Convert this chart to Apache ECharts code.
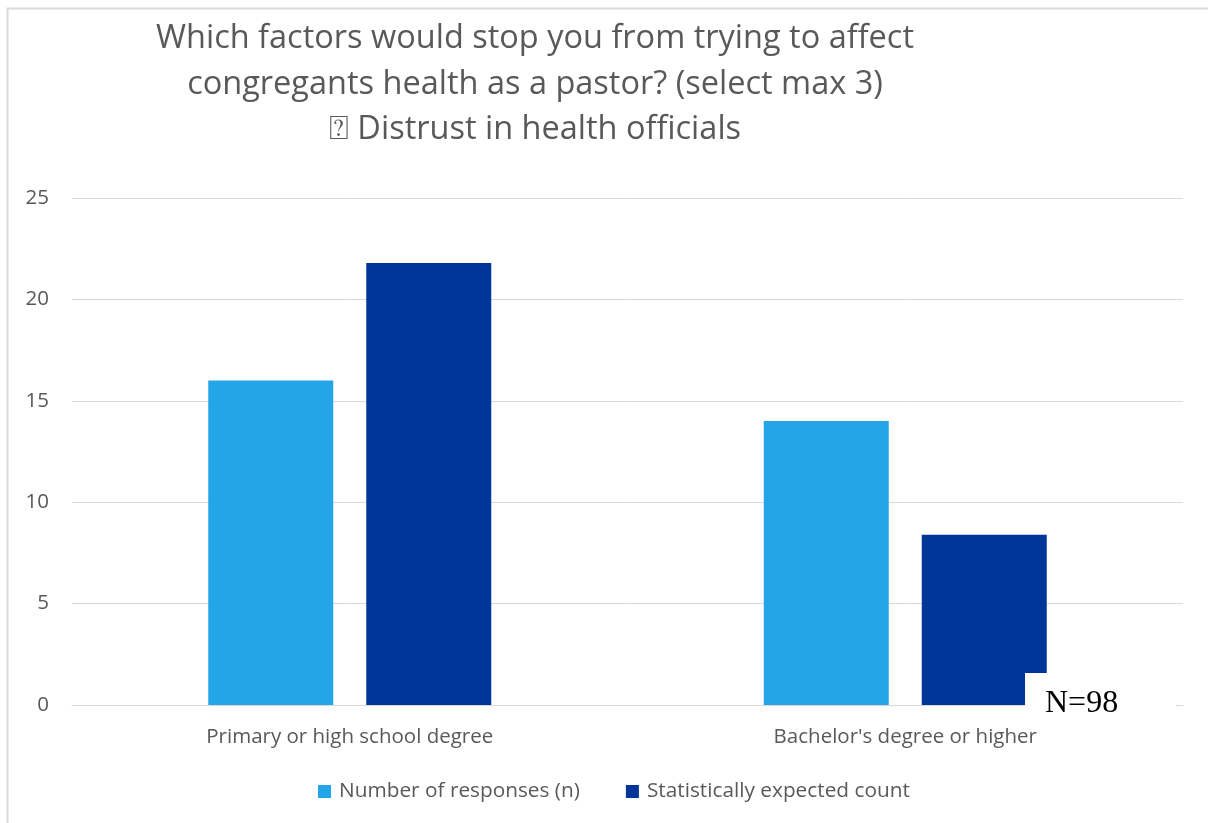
<!DOCTYPE html>
<html>
<head>
<meta charset="utf-8">
<script src="https://cdn.jsdelivr.net/npm/echarts@6/dist/echarts.min.js"></script>
<style>
html,body{margin:0;padding:0;background:#fff;}
#chart{width:1208px;height:823px;}
</style>
</head>
<body>
<div id="chart"></div>
<script>
const categories = ["Primary or high school degree", "Bachelor's degree or higher"];
const seriesNames = ["Number of responses (n)", "Statistically expected count"];
const responses = [16, 14];
const expected = [21.8, 8.4];
const yTicks = [0, 5, 10, 15, 20, 25];
const titleText = "Which factors would stop you from trying to affect\ncongregants health as a pastor? (select max 3)\n\u2370 Distrust in health officials";
const noteText = "N=98";

const FONT = "Open Sans";
const chart = echarts.init(document.getElementById('chart'));
chart.setOption({
  animation: false,
  backgroundColor: '#fff',
  title: {
    text: titleText,
    left: 530, top: 11, textAlign: 'center',
    textStyle: {fontFamily: FONT, fontSize: 32.5, fontWeight: 'normal', color: '#595959', lineHeight: 45.5}
  },
  legend: {
    data: seriesNames,
    left: 313, top: 776, itemWidth: 13, itemHeight: 13, itemGap: 46,
    icon: 'rect',
    textStyle: {fontFamily: FONT, fontSize: 20.8, color: '#595959', padding: [0, 0, 0, 3]}
  },
  grid: {left: 72, right: 25, top: 198, bottom: 118, containLabel: false},
  xAxis: {
    type: 'category', data: categories,
    axisLine: {lineStyle: {color: '#d9d9d9', width: 1}},
    axisTick: {show: false},
    axisLabel: {fontFamily: FONT, fontSize: 20.5, color: '#595959', margin: 22}
  },
  yAxis: {
    type: 'value', min: yTicks[0], max: yTicks[yTicks.length-1], interval: 5,
    axisLine: {show: false}, axisTick: {show: false},
    splitLine: {lineStyle: {color: '#d9d9d9', width: 1}},
    axisLabel: {fontFamily: FONT, fontSize: 20.5, color: '#595959', margin: 23}
  },
  series: [
    {name: seriesNames[0], type: 'bar', data: responses, barWidth: 125, barGap: '26.4%',
     itemStyle: {color: '#24A5E8'}},
    {name: seriesNames[1], type: 'bar', data: expected, barWidth: 125,
     itemStyle: {color: '#003698'}}
  ],
  graphic: [
    {type: 'rect', shape: {x: 7.5, y: 8.5, width: 1400, height: 1000}, silent: true,
     style: {fill: 'none', stroke: '#d9d9d9', lineWidth: 2}, z: 100},
    {type: 'rect', shape: {x: 1025, y: 673, width: 151, height: 50},
     style: {fill: '#fff'}, z: 100},
    {type: 'text', x: 1045, y: 704, z: 101,
     style: {text: noteText, fontFamily: 'Liberation Serif', fontSize: 32, fill: '#000', textVerticalAlign: 'middle'}}
  ]
});
</script>
</body>
</html>
